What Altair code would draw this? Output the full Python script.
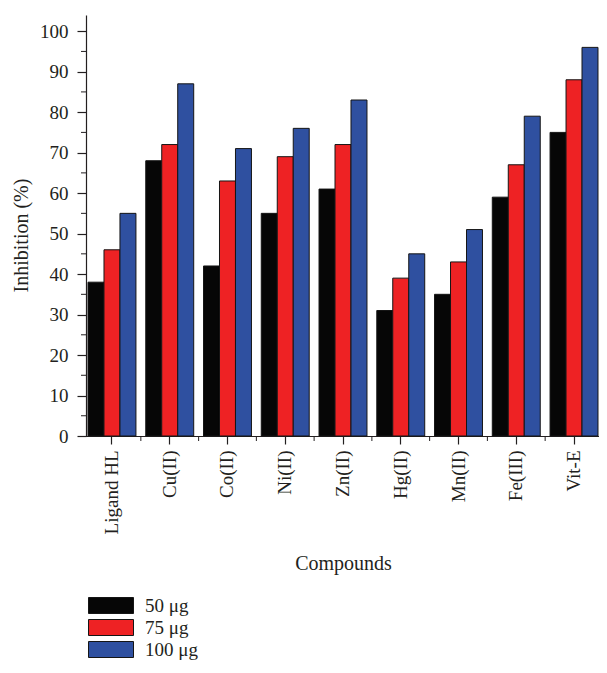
import altair as alt
import pandas as pd

compounds = ["Ligand HL", "Cu(II)", "Co(II)", "Ni(II)", "Zn(II)", "Hg(II)", "Mn(II)", "Fe(III)", "Vit-E"]
doses = ["50 μg", "75 μg", "100 μg"]
v50 = [38, 68, 42, 55, 61, 31, 35, 59, 75]
v75 = [46, 72, 63, 69, 72, 39, 43, 67, 88]
v100 = [55, 87, 71, 76, 83, 45, 51, 79, 96]
colors = ["#060606", "#ee2224", "#2f50a0"]
y_major = [0, 10, 20, 30, 40, 50, 60, 70, 80, 90, 100]
y_minor = [5, 15, 25, 35, 45, 55, 65, 75, 85, 95]

rows = []
for d, vals in zip(doses, [v50, v75, v100]):
    for c, v in zip(compounds, vals):
        rows.append({"compound": c, "dose": d, "value": v})
df = pd.DataFrame(rows)
minor_df = pd.DataFrame({"v": y_minor})
cat_df = pd.DataFrame({"compound": compounds[1:]})

FONT = "Liberation Serif"
TXT = "#231f20"

xscale = alt.Scale(domain=compounds, range=[-2.9, 516.9], paddingInner=0, paddingOuter=0)
yscale = alt.Scale(domain=[0, 104], nice=False)

bars = alt.Chart(df).mark_bar(stroke="#151515", strokeWidth=1).encode(
    x=alt.X("compound:N", sort=compounds, scale=xscale,
            axis=alt.Axis(title="Compounds", labelAngle=270, labelAlign="right", labelBaseline="middle",
                          tickSize=8, labelPadding=6, titlePadding=20)),
    xOffset=alt.XOffset("dose:N", sort=doses, scale=alt.Scale(domain=doses, paddingInner=0, paddingOuter=0.307)),
    y=alt.Y("value:Q", scale=yscale,
            axis=alt.Axis(title="Inhibition (%)", values=y_major, tickSize=9, labelPadding=9,
                          titlePadding=8, titleY=220)),
    color=alt.Color("dose:N", sort=doses, scale=alt.Scale(domain=doses, range=colors),
                    legend=alt.Legend(title=None, orient="none", legendX=15.5, legendY=581,
                                      symbolType="M-2.8125,-1H2.8125V1H-2.8125Z", symbolSize=256,
                                      symbolStrokeColor="#151515", symbolStrokeWidth=1,
                                      symbolOpacity=1, labelOffset=24.5, rowPadding=1,
                                      labelFont=FONT, labelFontSize=19, labelColor=TXT)),
)

yminor = alt.Chart(minor_df).mark_rule(color=TXT, strokeWidth=1).encode(
    y=alt.Y("v:Q", scale=yscale),
    x=alt.value(-5),
    x2=alt.value(0),
)

xminor = alt.Chart(cat_df).mark_rule(color=TXT, strokeWidth=1).encode(
    x=alt.X("compound:N", sort=compounds, scale=xscale, bandPosition=0),
    y=alt.value(421),
    y2=alt.value(426),
)

chart = alt.layer(bars, yminor, xminor).properties(
    width=513, height=421,
    autosize=alt.AutoSizeParams(type="none"),
    padding={"left": 78, "top": 7, "right": 0, "bottom": 225},
).configure_view(stroke=None).configure_axis(
    labelFont=FONT, titleFont=FONT, labelFontSize=19, titleFontSize=20,
    labelColor=TXT, titleColor=TXT, domainColor=TXT, tickColor=TXT,
    titleFontWeight="normal", grid=False, domainWidth=1.2, tickWidth=1.2,
)

chart.save("out.html", embed_options={"renderer": "svg", "actions": False})
